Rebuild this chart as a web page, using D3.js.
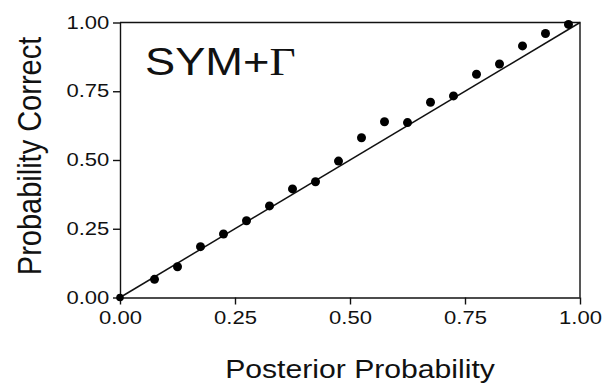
<!DOCTYPE html>
<html>
<head>
<meta charset="utf-8">
<script src="https://cdn.jsdelivr.net/npm/d3@7"></script>
<style>
  body { margin: 0; background: #fff; }
  svg { display: block; }
  text { font-family: "Liberation Sans", Arial, Helvetica, sans-serif; fill: #111; }
</style>
</head>
<body>
<svg id="chart" width="602" height="388"></svg>
<script>
// calibration points: posterior probability bin vs observed fraction correct
var posterior = [0, 0.075, 0.125, 0.175, 0.225, 0.275, 0.325, 0.375, 0.425, 0.475,
                 0.525, 0.575, 0.625, 0.675, 0.725, 0.775, 0.825, 0.875, 0.925, 0.975];
var probCorrect = [0, 0.066, 0.112, 0.185, 0.231, 0.279, 0.333, 0.395, 0.421, 0.496,
                   0.581, 0.639, 0.636, 0.710, 0.733, 0.812, 0.849, 0.915, 0.960, 0.993];
var xTickVals = [0, 0.25, 0.5, 0.75, 1];
var yTickVals = [0, 0.25, 0.5, 0.75, 1];
var diagonal = [0, 1];

var W = 602, H = 388;
var margin = {top: 22.5, right: 22, bottom: 90.5, left: 120};
var STRETCH = 1.16;   // glyphs in the source are drawn wide

var svg = d3.select("#chart");
var x = d3.scaleLinear().domain([0, 1]).range([margin.left, W - margin.right]);
var y = d3.scaleLinear().domain([0, 1]).range([H - margin.bottom, margin.top]);

// frame (top and right)
svg.append("path")
    .attr("d", "M" + x(0) + "," + y(1) + "H" + x(1) + "V" + y(0))
    .attr("fill", "none")
    .attr("stroke", "#111")
    .attr("stroke-width", 1.4);

var xAxis = svg.append("g")
    .attr("transform", "translate(0," + y(0) + ")")
    .call(d3.axisBottom(x).tickValues(xTickVals).tickFormat(d3.format(".2f"))
          .tickSize(7).tickSizeOuter(0).tickPadding(4));
var yAxis = svg.append("g")
    .attr("transform", "translate(" + x(0) + ",0)")
    .call(d3.axisLeft(y).tickValues(yTickVals).tickFormat(d3.format(".2f"))
          .tickSize(7).tickSizeOuter(0).tickPadding(2));

svg.selectAll(".domain, .tick line")
    .attr("stroke", "#111")
    .attr("stroke-width", 1.4);

xAxis.selectAll("text")
    .attr("font-size", 19)
    .attr("font-family", null)
    .attr("y", 27).attr("dy", 0)
    .attr("transform", "scale(" + STRETCH + ",1)");
yAxis.selectAll("text")
    .attr("font-size", 19)
    .attr("font-family", null)
    .attr("x", -9.2).attr("dy", "0.3em")
    .attr("transform", "scale(" + STRETCH + ",1)");

// y = x reference line
svg.append("line")
    .attr("x1", x(diagonal[0])).attr("y1", y(diagonal[0]))
    .attr("x2", x(diagonal[1])).attr("y2", y(diagonal[1]))
    .attr("stroke", "#111")
    .attr("stroke-width", 1.5);

svg.append("g").selectAll("circle")
    .data(posterior)
    .join("circle")
    .attr("cx", function(d) { return x(d); })
    .attr("cy", function(d, i) { return y(probCorrect[i]); })
    .attr("r", function(d, i) { return i === 0 ? 3.8 : 4.5; })
    .attr("fill", "#000");

// axis titles
svg.append("text")
    .attr("transform", "translate(" + ((x(0) + x(1)) / 2 + 10) + ",378) scale(" + STRETCH + ",1)")
    .attr("text-anchor", "middle")
    .attr("font-size", 26)
    .text("Posterior Probability");

svg.append("text")
    .attr("transform", "translate(40.5," + ((y(0) + y(1)) / 2 - 4) + ") rotate(-90) scale(1," + STRETCH + ")")
    .attr("text-anchor", "middle")
    .attr("font-size", 29)
    .text("Probability Correct");

// model label
var lab = svg.append("text")
    .attr("transform", "translate(145,75) scale(" + STRETCH + ",1)")
    .attr("font-size", 39);
lab.append("tspan").text("SYM+");
lab.append("tspan")
    .attr("font-family", "'Liberation Serif', 'Times New Roman', serif")
    .text("\u0393");
</script>
</body>
</html>
